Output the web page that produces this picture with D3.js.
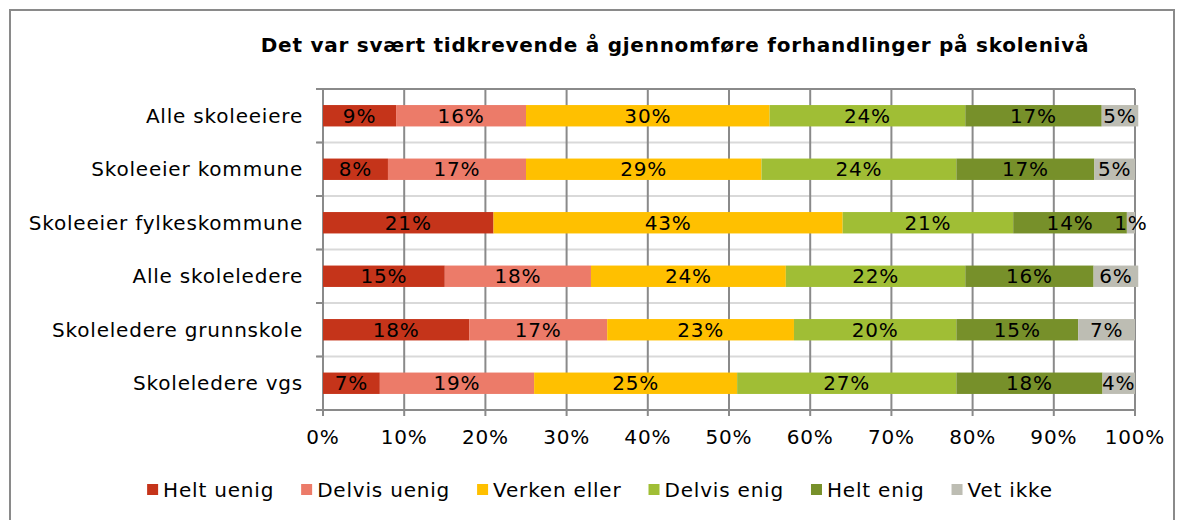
<!DOCTYPE html>
<html>
<head>
<meta charset="utf-8">
<script src="https://cdn.jsdelivr.net/npm/d3@7"></script>
<style>
  body { margin: 0; background: #fff; }
  text { font-family: "DejaVu Sans", Verdana, sans-serif; fill: #000; }
  .lbl { font-size: 20px; letter-spacing: 0.8px; }
</style>
</head>
<body>
<svg id="chart" width="1184" height="520"></svg>
<script>
// categories and series (percent)
var categories = ["Alle skoleeiere", "Skoleeier kommune", "Skoleeier fylkeskommune",
                  "Alle skoleledere", "Skoleledere grunnskole", "Skoleledere vgs"];
var seriesNames = ["Helt uenig", "Delvis uenig", "Verken eller", "Delvis enig", "Helt enig", "Vet ikke"];
var heltUenig   = [9, 8, 21, 15, 18, 7];
var delvisUenig = [16, 17, 0, 18, 17, 19];
var verkenEller = [30, 29, 43, 24, 23, 25];
var delvisEnig  = [24.1, 24, 21, 22.1, 20, 27];
var heltEnig    = [16.8, 17, 14, 15.8, 15, 18];
var vetIkke     = [4.5, 5, 1, 5.5, 7, 4];
var colors = ["#c5341a", "#ec7b69", "#ffc000", "#a0be35", "#77902a", "#bdbdb3"];
var xTicks = [0, 10, 20, 30, 40, 50, 60, 70, 80, 90, 100];

var allSeries = [heltUenig, delvisUenig, verkenEller, delvisEnig, heltEnig, vetIkke];
var rows = categories.map(function (c, i) {
    var r = { cat: c };
    seriesNames.forEach(function (s, j) { r[s] = allSeries[j][i]; });
    return r;
});

var svg = d3.select("#chart");

// outer frame
svg.append("rect")
    .attr("x", 10).attr("y", 10)
    .attr("width", 1164).attr("height", 530)
    .attr("fill", "none")
    .attr("stroke", "#8a8a8a")
    .attr("stroke-width", 2);

var x = d3.scaleLinear().domain([0, 100]).range([323, 1135]);
var y = d3.scaleBand().domain(categories).range([89, 410]).paddingInner(0.6).paddingOuter(0.3);

// light separators between categories
var bounds = d3.range(1, categories.length).map(function (i) { return 89 + i * y.step(); });
svg.append("g").selectAll("line")
    .data(bounds)
    .enter().append("line")
    .attr("x1", 317).attr("x2", x(100))
    .attr("y1", function (d) { return d; })
    .attr("y2", function (d) { return d; })
    .attr("stroke", "#d9d9d9")
    .attr("stroke-width", 2);
// left tick marks
svg.append("g").selectAll("line")
    .data(bounds.concat([89, 410]))
    .enter().append("line")
    .attr("x1", 316).attr("x2", 323)
    .attr("y1", function (d) { return d; })
    .attr("y2", function (d) { return d; })
    .attr("stroke", "#8a8a8a")
    .attr("stroke-width", 2);

// vertical grid lines
svg.append("g").selectAll("line")
    .data(xTicks)
    .enter().append("line")
    .attr("x1", function (d) { return x(d); })
    .attr("x2", function (d) { return x(d); })
    .attr("y1", 89).attr("y2", 416)
    .attr("stroke", "#8a8a8a")
    .attr("stroke-width", 2);

// top and bottom frame of plot
svg.append("line").attr("x1", 316).attr("x2", x(100)).attr("y1", 89).attr("y2", 89)
    .attr("stroke", "#8a8a8a").attr("stroke-width", 2);
svg.append("line").attr("x1", 316).attr("x2", x(100)).attr("y1", 410).attr("y2", 410)
    .attr("stroke", "#8a8a8a").attr("stroke-width", 2);

// stacked bars
var stack = d3.stack().keys(seriesNames);
var layers = stack(rows);

var groups = svg.append("g").selectAll("g")
    .data(layers)
    .enter().append("g")
    .attr("fill", function (d, i) { return colors[i]; });

groups.selectAll("rect")
    .data(function (d) { return d; })
    .enter().append("rect")
    .attr("x", function (d) { return x(d[0]); })
    .attr("y", function (d) { return y(d.data.cat); })
    .attr("width", function (d) { return x(d[1]) - x(d[0]); })
    .attr("height", y.bandwidth());

groups.selectAll("text")
    .data(function (d) { return d.filter(function (p) { return p[1] - p[0] > 0; }); })
    .enter().append("text")
    .attr("class", "lbl")
    .attr("x", function (d) { return (x(d[0]) + x(d[1])) / 2; })
    .attr("y", function (d) { return y(d.data.cat) + y.bandwidth() / 2; })
    .attr("text-anchor", "middle")
    .attr("dominant-baseline", "central")
    .text(function (d) { return Math.round(d[1] - d[0]) + "%"; });

// category labels
svg.append("g").selectAll("text")
    .data(categories)
    .enter().append("text")
    .attr("class", "lbl")
    .attr("x", 303)
    .attr("y", function (d) { return y(d) + y.bandwidth() / 2; })
    .attr("text-anchor", "end")
    .attr("dominant-baseline", "central")
    .text(function (d) { return d; });

// x tick labels
svg.append("g").selectAll("text")
    .data(xTicks)
    .enter().append("text")
    .attr("class", "lbl")
    .attr("x", function (d) { return x(d); })
    .attr("y", 444)
    .attr("text-anchor", "middle")
    .text(function (d) { return d + "%"; });

// title
svg.append("text")
    .attr("x", 675).attr("y", 52)
    .attr("text-anchor", "middle")
    .style("font-size", "20px")
    .style("letter-spacing", "0.75px")
    .style("font-weight", "bold")
    .text("Det var svært tidkrevende å gjennomføre forhandlinger på skolenivå");

// legend
var legend = svg.append("g");
var cx = 0;
seriesNames.forEach(function (s, i) {
    var item = legend.append("g").attr("transform", "translate(" + cx + ",0)");
    item.append("rect").attr("x", 0).attr("y", -13).attr("width", 11).attr("height", 11)
        .attr("fill", colors[i]);
    var t = item.append("text").attr("class", "lbl").attr("x", 16).attr("y", 0).text(s);
    cx += 16 + t.node().getComputedTextLength() + 27;
});
var legendW = cx - 27;
legend.attr("transform", "translate(" + (600 - legendW / 2) + ",497)");
</script>
</body>
</html>
